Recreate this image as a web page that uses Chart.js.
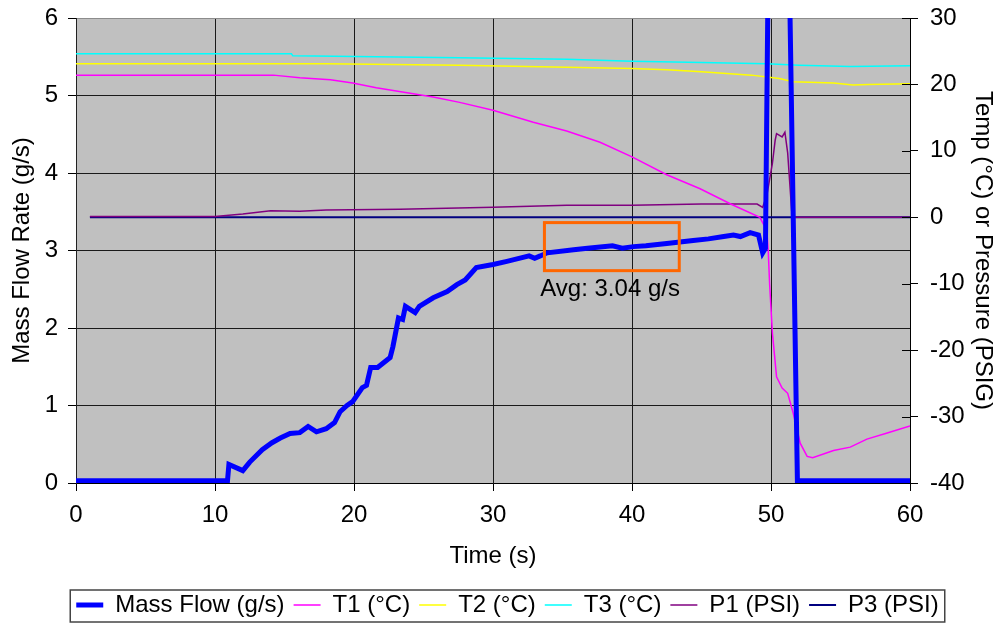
<!DOCTYPE html>
<html>
<head>
<meta charset="utf-8">
<title>Mass Flow Rate</title>
<script src="https://cdn.jsdelivr.net/npm/chart.js@4.4.1/dist/chart.umd.min.js"></script>
<style>
  body { margin: 0; background: #fff; }
  canvas { display: block; }
</style>
</head>
<body>
<canvas id="flow_chart" width="997" height="623"></canvas>
<script>
// Mass flow (left axis, g/s)
const flowTime = [0, 10.9, 11.0, 12.0, 12.5, 13.4, 14.1, 14.7, 15.4, 16.1, 16.7, 17.3, 18.0, 18.6, 19.0, 19.5, 19.9,
    20.6, 20.9, 21.2, 21.7, 22.6, 22.8, 23.2, 23.5, 23.7, 24.4, 24.7, 25.7, 26.7, 27.4, 28.0, 28.8, 30.0, 31.0,
    32.6, 33.0, 33.4, 33.9, 35.8, 36.8, 38.6, 39.3, 40.1, 41.0, 42.5, 44.4, 45.5, 46.6, 47.3, 47.8, 48.5, 49.1,
    49.4, 49.6, 49.9, 51.15, 51.9, 60];
const flowRate = [0.03, 0.03, 0.24, 0.16, 0.27, 0.43, 0.52, 0.58, 0.64, 0.65, 0.73, 0.66, 0.70, 0.78, 0.92, 1.00, 1.05,
    1.23, 1.26, 1.49, 1.49, 1.62, 1.76, 2.13, 2.11, 2.28, 2.20, 2.28, 2.39, 2.47, 2.56, 2.62, 2.78, 2.82, 2.86,
    2.93, 2.90, 2.93, 2.97, 3.01, 3.03, 3.06, 3.03, 3.05, 3.06, 3.09, 3.13, 3.15, 3.18, 3.20, 3.18, 3.23, 3.20,
    2.97, 3.03, 8.5, 8.5, 0.03, 0.03];

// Temperatures and pressures (right axis)
const t1Time = [0, 14.2, 16.1, 18.3, 19.9, 21.6, 25.7, 27.6, 30, 32.9, 35.3, 37.7, 40, 42.5, 44.9, 47.1, 49.2, 49.7,
    49.8, 49.9, 50.1, 50.4, 50.8, 51.2, 51.6, 52.1, 52.6, 53, 54.5, 55.7, 56.9, 58.3, 60];
const t1Temp = [21.4, 21.4, 21.0, 20.7, 20.2, 19.5, 18.1, 17.3, 16.1, 14.3, 13.0, 11.3, 9.1, 6.4, 4.3, 2.0, 0, -2,
    -5, -10, -17.4, -24, -25.7, -26.5, -29.5, -34, -36, -36.2, -35.1, -34.6, -33.4, -32.5, -31.4];

const t2Time = [0, 18, 27.6, 35.3, 40, 42.5, 45, 48.6, 50.6, 51.6, 54.5, 55.9, 57, 60];
const t2Temp = [23.1, 23.1, 22.9, 22.6, 22.4, 22.2, 21.9, 21.4, 20.9, 20.4, 20.2, 19.9, 20.0, 20.1];

const t3Time = [0, 15.5, 15.6, 27.6, 35.3, 40, 45, 49.7, 52, 55.7, 60];
const t3Temp = [24.6, 24.6, 24.3, 24.0, 23.8, 23.5, 23.3, 23.1, 22.9, 22.7, 22.8];

const p1Time = [1, 10, 12, 14, 16.1, 18, 23.3, 30, 35.3, 40, 45, 49, 49.4, 49.7, 50.1, 50.3, 50.4, 50.8, 51.0, 51.2,
    51.5, 51.7, 60];
const p1Press = [0.1, 0.1, 0.5, 1.0, 0.9, 1.1, 1.2, 1.5, 1.8, 1.8, 2.0, 2.0, 1.5, 3.3, 8.1, 11.6, 12.6, 12.1, 12.8, 9.7,
    0.6, 0, 0];

const p3Time = [1, 60];
const p3Press = [0, 0];

// Averaging window annotation (data units)
const avgWindow = [33.7, 43.4];
const avgRange = [2.74, 3.36];
const avgText = 'Avg: 3.04 g/s';
const avgTextAt = [33.4, 2.5];

const fontFamily = "'Liberation Sans', Arial, sans-serif";
const legendPadding = 9;

function pts(xs, ys) {
    return xs.map((x, i) => ({ x: x, y: ys[i] }));
}

function lineSet(label, xs, ys, color, width, axis) {
    return {
        label: label,
        data: pts(xs, ys),
        borderColor: color,
        backgroundColor: color,
        borderWidth: width,
        pointRadius: 0,
        tension: 0,
        clip: 0,
        yAxisID: axis,
        pointStyle: 'line'
    };
}

// vertical axes: no extra room for the end labels, plot top stays at the layout padding
function fixVertical(width) {
    return s => {
        s.width = width;
        s.paddingTop = 0;
        s.paddingBottom = 0;
    };
}

// grey plot background
const plotBackground = {
    id: 'plotBackground',
    beforeDraw(chart) {
        const a = chart.chartArea;
        const ctx = chart.ctx;
        ctx.save();
        ctx.fillStyle = '#c0c0c0';
        ctx.fillRect(a.left, a.top, a.right - a.left, a.bottom - a.top);
        ctx.restore();
    }
};

// the legend sits a little right of the page centre
const legendShift = {
    id: 'legendShift',
    afterUpdate(chart) {
        const legend = chart.legend;
        legend.left += 9;
        legend.right += 9;
        // adjustHitBoxes adds the top offset again, take it off first
        legend.legendHitBoxes.forEach(b => { b.top -= legend.top + legendPadding; });
        legend.adjustHitBoxes();
    }
};

// right axis ticks cross the axis line
const innerTicks = {
    id: 'innerTicks',
    afterDraw(chart) {
        const s = chart.scales.y1;
        const ctx = chart.ctx;
        ctx.save();
        ctx.strokeStyle = '#000';
        ctx.lineWidth = 1;
        s.ticks.forEach(t => {
            const y = Math.round(s.getPixelForValue(t.value)) + 0.5;
            ctx.beginPath();
            ctx.moveTo(s.left - 8, y);
            ctx.lineTo(s.left, y);
            ctx.stroke();
        });
        ctx.restore();
    }
};

// orange box over the averaging window + its label
const avgBox = {
    id: 'avgBox',
    afterDatasetsDraw(chart) {
        const x = chart.scales.x;
        const y = chart.scales.y;
        const ctx = chart.ctx;
        const left = x.getPixelForValue(avgWindow[0]);
        const right = x.getPixelForValue(avgWindow[1]);
        const top = y.getPixelForValue(avgRange[1]);
        const bottom = y.getPixelForValue(avgRange[0]);
        ctx.save();
        ctx.strokeStyle = '#ff6600';
        ctx.lineWidth = 3;
        ctx.strokeRect(left, top, right - left, bottom - top);
        ctx.fillStyle = '#000';
        ctx.font = '24px ' + fontFamily;
        ctx.textAlign = 'left';
        ctx.textBaseline = 'middle';
        ctx.fillText(avgText, x.getPixelForValue(avgTextAt[0]), y.getPixelForValue(avgTextAt[1]));
        ctx.restore();
    }
};

// frame round the legend
const legendFrame = {
    id: 'legendFrame',
    afterDraw(chart) {
        const legend = chart.legend;
        const boxes = legend.legendHitBoxes;
        if (!boxes || !boxes.length) return;
        const first = boxes[0];
        const last = boxes[boxes.length - 1];
        const ctx = chart.ctx;
        ctx.save();
        ctx.strokeStyle = '#444';
        ctx.lineWidth = 1.5;
        const l = first.left - 6, r = last.left + last.width + 6, t = legend.top + legendPadding - 3;
        ctx.strokeRect(l, t, r - l, chart.height - 1 - t);
        ctx.restore();
    }
};

Chart.defaults.font.family = fontFamily;
Chart.defaults.font.size = 24;
Chart.defaults.color = '#000';

const flowChart = new Chart(document.getElementById('flow_chart'), {
    type: 'line',
    data: {
        datasets: [
            lineSet('Mass Flow (g/s)', flowTime, flowRate, '#0000ff', 5, 'y'),
            lineSet('T1 (°C)', t1Time, t1Temp, '#ff00ff', 1.5, 'y1'),
            lineSet('T2 (°C)', t2Time, t2Temp, '#ffff00', 1.5, 'y1'),
            lineSet('T3 (°C)', t3Time, t3Temp, '#00ffff', 1.5, 'y1'),
            lineSet('P1 (PSI)', p1Time, p1Press, '#800080', 1.5, 'y1'),
            lineSet('P3 (PSI)', p3Time, p3Press, '#000080', 2, 'y1')
        ]
    },
    options: {
        responsive: false,
        animation: false,
        events: [],
        layout: { padding: { top: 18, left: 0, right: 0, bottom: -4 } },
        plugins: {
            tooltip: { enabled: false },
            legend: {
                position: 'bottom',
                labels: {
                    usePointStyle: true,
                    pointStyleWidth: 27,
                    padding: legendPadding,
                    font: { size: 24 }
                }
            }
        },
        scales: {
            x: {
                type: 'linear',
                min: 0,
                max: 60,
                ticks: { stepSize: 10, padding: 10 },
                grid: { color: '#1a1a1a', tickColor: '#000', tickLength: 8 },
                border: { color: '#000' },
                title: { display: true, text: 'Time (s)', padding: { top: 0, bottom: 13 } },
                afterFit: s => { s.height = s.chart.height + 4 - 483 - s.chart.legend.height; }
            },
            y: {
                position: 'left',
                min: 0,
                max: 6,
                ticks: { stepSize: 1, padding: 10 },
                grid: {
                    color: c => (c.tick && c.tick.value === 6) ? '#8c8c8c' : '#1a1a1a',
                    tickColor: '#000',
                    tickLength: 8
                },
                border: { color: '#222' },
                title: { display: true, text: 'Mass Flow Rate (g/s)', padding: { top: 8 } },
                afterFit: fixVertical(76)
            },
            y1: {
                position: 'right',
                min: -40,
                max: 30,
                ticks: { stepSize: 10, padding: 12 },
                grid: { drawOnChartArea: false, tickColor: '#000', tickLength: 8 },
                border: { color: '#000' },
                title: { display: true, text: 'Temp (°C) or Pressure (PSIG)', padding: { top: 0 } },
                afterFit: fixVertical(87)
            }
        }
    },
    plugins: [plotBackground, legendShift, innerTicks, avgBox, legendFrame]
});
</script>
</body>
</html>
